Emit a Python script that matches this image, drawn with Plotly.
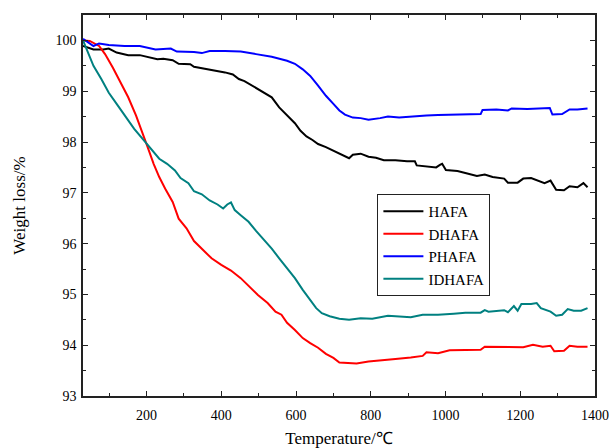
import plotly.graph_objects as go

# HAFA (black)
hafa_x = [30, 58, 84, 99, 120, 151, 182, 203, 229, 245, 270, 286, 317, 327, 359, 379, 410, 431, 447, 462, 488, 514, 535, 555, 576, 597, 612, 628, 644, 659, 680, 700, 721, 742, 752, 773, 794, 814, 835, 866, 897, 918, 923, 949, 975, 985, 991, 1001, 1032, 1053, 1084, 1105, 1126, 1157, 1167, 1193, 1208, 1229, 1250, 1265, 1281, 1296, 1317, 1332, 1353, 1369, 1380]
hafa_y = [99.89, 99.82, 99.82, 99.84, 99.76, 99.71, 99.71, 99.68, 99.63, 99.64, 99.61, 99.54, 99.53, 99.48, 99.44, 99.40, 99.37, 99.33, 99.24, 99.20, 99.09, 98.97, 98.88, 98.68, 98.52, 98.37, 98.22, 98.11, 98.04, 97.96, 97.90, 97.83, 97.75, 97.68, 97.75, 97.77, 97.71, 97.69, 97.64, 97.64, 97.62, 97.62, 97.54, 97.52, 97.50, 97.55, 97.57, 97.45, 97.43, 97.39, 97.33, 97.36, 97.31, 97.28, 97.20, 97.20, 97.28, 97.29, 97.24, 97.19, 97.24, 97.06, 97.05, 97.13, 97.11, 97.19, 97.11]

# DHAFA (red)
dhafa_x = [30, 48, 73, 89, 110, 131, 151, 172, 188, 203, 219, 234, 250, 270, 286, 307, 327, 348, 374, 400, 426, 452, 477, 498, 524, 545, 561, 576, 597, 618, 638, 659, 680, 700, 716, 742, 762, 794, 835, 866, 907, 939, 949, 980, 1011, 1053, 1094, 1105, 1146, 1167, 1188, 1208, 1234, 1260, 1281, 1291, 1317, 1332, 1353, 1380]
dhafa_y = [100.0, 99.99, 99.89, 99.73, 99.46, 99.17, 98.88, 98.52, 98.22, 97.90, 97.57, 97.31, 97.08, 96.82, 96.49, 96.30, 96.05, 95.90, 95.71, 95.58, 95.47, 95.32, 95.14, 94.99, 94.83, 94.66, 94.60, 94.44, 94.30, 94.14, 94.04, 93.95, 93.83, 93.75, 93.66, 93.65, 93.64, 93.68, 93.70, 93.73, 93.76, 93.79, 93.86, 93.84, 93.90, 93.91, 93.91, 93.97, 93.97, 93.96, 93.97, 93.96, 94.01, 93.97, 93.99, 93.88, 93.89, 93.99, 93.97, 93.97]

# PHAFA (blue)
phafa_x = [30, 48, 58, 73, 99, 141, 182, 224, 265, 281, 327, 348, 369, 410, 452, 493, 535, 576, 597, 618, 638, 659, 680, 700, 716, 731, 752, 773, 794, 825, 846, 876, 907, 949, 980, 1022, 1063, 1094, 1099, 1136, 1167, 1177, 1219, 1260, 1279, 1286, 1312, 1332, 1353, 1380]
phafa_y = [100.03, 99.95, 99.89, 99.94, 99.91, 99.89, 99.89, 99.82, 99.84, 99.78, 99.77, 99.75, 99.79, 99.79, 99.78, 99.73, 99.68, 99.60, 99.54, 99.43, 99.30, 99.11, 98.91, 98.75, 98.62, 98.54, 98.48, 98.47, 98.44, 98.47, 98.50, 98.48, 98.50, 98.52, 98.53, 98.54, 98.55, 98.55, 98.63, 98.64, 98.62, 98.66, 98.65, 98.67, 98.67, 98.54, 98.55, 98.64, 98.64, 98.66]

# IDHAFA (teal)
idhafa_x = [30, 42, 58, 79, 99, 120, 141, 167, 193, 213, 234, 255, 276, 291, 312, 327, 348, 369, 390, 405, 416, 426, 436, 452, 473, 493, 514, 535, 555, 576, 597, 618, 638, 654, 669, 690, 716, 742, 773, 804, 846, 887, 907, 939, 980, 1022, 1053, 1094, 1105, 1115, 1157, 1167, 1183, 1193, 1203, 1229, 1244, 1255, 1281, 1296, 1312, 1327, 1343, 1363, 1380]
idhafa_y = [100.0, 99.79, 99.50, 99.24, 98.97, 98.75, 98.52, 98.26, 98.03, 97.86, 97.67, 97.57, 97.44, 97.29, 97.19, 97.03, 96.97, 96.85, 96.77, 96.69, 96.77, 96.81, 96.66, 96.56, 96.43, 96.25, 96.08, 95.90, 95.71, 95.51, 95.32, 95.09, 94.89, 94.73, 94.63, 94.57, 94.52, 94.50, 94.53, 94.52, 94.58, 94.56, 94.55, 94.60, 94.60, 94.62, 94.64, 94.64, 94.69, 94.66, 94.69, 94.65, 94.77, 94.68, 94.81, 94.81, 94.83, 94.73, 94.66, 94.58, 94.60, 94.71, 94.68, 94.68, 94.73]

x_tickvals = [200, 400, 600, 800, 1000, 1200, 1400]
y_tickvals = [93, 94, 95, 96, 97, 98, 99, 100]

series = [
    ("HAFA", hafa_x, hafa_y, "#000000"),
    ("DHAFA", dhafa_x, dhafa_y, "#ff0000"),
    ("PHAFA", phafa_x, phafa_y, "#0000ff"),
    ("IDHAFA", idhafa_x, idhafa_y, "#008080"),
]

fig = go.Figure()
for name, xs, ys, col in series:
    fig.add_trace(go.Scatter(x=xs, y=ys, mode="lines", name=name,
                             line=dict(color=col, width=2)))

font = "Liberation Serif"
axis_common = dict(
    showline=True, linecolor="#222", linewidth=1.5, mirror="ticks",
    ticks="inside", ticklen=5, tickwidth=1.2, tickcolor="#222",
    showgrid=False, zeroline=False, automargin=False,
    tickfont=dict(family=font, size=14, color="#000"),
)

fig.update_layout(
    width=609, height=448,
    margin=dict(l=83, r=14, t=15, b=52),
    paper_bgcolor="white", plot_bgcolor="white",
    font=dict(family=font, color="#000"),
    xaxis=dict(range=[30, 1400], tickvals=x_tickvals, ticklabelstandoff=5,
               minor=dict(ticks="inside", ticklen=3, dtick=100, tick0=0, tickcolor="#222"),
               title=dict(text="Temperature/℃", font=dict(family=font, size=17), standoff=14),
               **axis_common),
    yaxis=dict(range=[93, 100.5], tickvals=y_tickvals, ticklabelstandoff=2,
               minor=dict(ticks="inside", ticklen=3, dtick=0.5, tick0=93, tickcolor="#222"),
               title=dict(text="Weight loss/%", font=dict(family=font, size=17), standoff=26),
               **axis_common),
    legend=dict(x=0.575, y=0.53, xanchor="left", yanchor="top",
                bordercolor="#222", borderwidth=1, bgcolor="white",
                font=dict(family=font, size=15), tracegroupgap=0,
                itemwidth=40),
    showlegend=True,
)

fig.write_html("out.html")
